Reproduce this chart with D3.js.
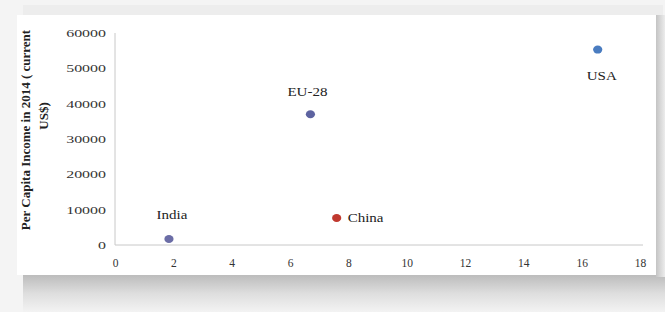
<!DOCTYPE html>
<html>
<head>
<meta charset="utf-8">
<script src="https://cdn.jsdelivr.net/npm/d3@7"></script>
<style>
  body { margin: 0; background: #f4f4f4; }
  svg { display: block; }
  .tick text { font-family: "Liberation Serif", "Times New Roman", serif; font-size: 11px; fill: #333; }
  .lbl { font-family: "Liberation Serif", "Times New Roman", serif; font-size: 12px; fill: #222; }
</style>
</head>
<body>
<svg id="chart" width="665" height="312"></svg>
<script>
// data
var countries = ["India", "China", "EU-28", "USA"]
var xValues = [1.85, 7.6, 6.7, 16.55]
var incomes = [1700, 7650, 37000, 55300]
var dotColors = ["#6b6da6", "#c0392f", "#5d63a0", "#4a7cc0"]
var xTicks = [0, 2, 4, 6, 8, 10, 12, 14, 16, 18]
var yTicks = [0, 10000, 20000, 30000, 40000, 50000, 60000]
var yTitle = ["Per Capita Income in 2014 ( current", "US$)"]

var svg = d3.select("#chart")

// panel with a soft shadow like the original picture
var defs = svg.append("defs")
var bottomGrad = defs.append("linearGradient").attr("id", "shadowB").attr("x1", 0).attr("y1", 0).attr("x2", 0).attr("y2", 1)
bottomGrad.append("stop").attr("offset", "0%").attr("stop-color", "#bcbcbc")
bottomGrad.append("stop").attr("offset", "50%").attr("stop-color", "#dedede")
bottomGrad.append("stop").attr("offset", "100%").attr("stop-color", "#f3f3f3")
var rightGrad = defs.append("linearGradient").attr("id", "shadowR").attr("x1", 0).attr("y1", 0).attr("x2", 1).attr("y2", 0)
rightGrad.append("stop").attr("offset", "0%").attr("stop-color", "#c4c4c4")
rightGrad.append("stop").attr("offset", "100%").attr("stop-color", "#ececec")

svg.append("rect").attr("x", 23).attr("y", 5).attr("width", 640).attr("height", 12).attr("fill", "#ededed")
svg.append("rect").attr("x", 23).attr("y", 275).attr("width", 642).attr("height", 37).attr("fill", "url(#shadowB)")
svg.append("rect").attr("x", 656).attr("y", 15).attr("width", 9).attr("height", 262).attr("fill", "url(#shadowR)")
svg.append("rect").attr("x", 17).attr("y", 15).attr("width", 639).attr("height", 260).attr("fill", "#ffffff")

var x = d3.scaleLinear().domain([0, 18]).range([115, 640])
var y = d3.scaleLinear().domain([0, 60000]).range([245, 33])

// the source image is stretched sideways, so text gets widened a bit
var yStretch = 1.45
var lblStretch = 1.25

var xAxis = svg.append("g")
  .attr("transform", "translate(0," + y(0) + ")")
  .call(d3.axisBottom(x).tickValues(xTicks).tickSize(0).tickPadding(14).tickFormat(d3.format("d")))
xAxis.select(".domain").attr("stroke", "#c8c8c8").attr("d", "M" + x(0) + ",0H" + (x(18) + 3))
xAxis.selectAll(".tick text").style("font-size", "11.5px")

var yAxis = svg.append("g")
  .attr("transform", "translate(" + x(0) + ",0)")
  .call(d3.axisLeft(y).tickValues(yTicks).tickSize(0).tickPadding(9).tickFormat(d3.format("d")))
yAxis.select(".domain").attr("stroke", "#c8c8c8").attr("d", "M0," + y(60000) + "V" + y(0))
yAxis.selectAll(".tick text")
  .attr("x", -9 / yStretch)
  .attr("transform", "scale(" + yStretch + ",1)")

// axis title, two rotated lines
svg.append("text").attr("class", "lbl")
  .attr("transform", "translate(30,130) rotate(-90)")
  .attr("text-anchor", "middle")
  .style("font-weight", "bold").style("font-size", "13px")
  .text(yTitle[0])
svg.append("text").attr("class", "lbl")
  .attr("transform", "translate(48,116) rotate(-90)")
  .attr("text-anchor", "middle")
  .style("font-weight", "bold").style("font-size", "13px")
  .text(yTitle[1])

var pts = countries.map(function (c, i) {
  return { name: c, x: xValues[i], y: incomes[i], color: dotColors[i] }
})

svg.selectAll(".dot")
  .data(pts)
  .enter().append("ellipse")
  .attr("class", "dot")
  .attr("cx", function (d) { return x(d.x) })
  .attr("cy", function (d) { return y(d.y) })
  .attr("rx", 4.6)
  .attr("ry", 4)
  .attr("fill", function (d) { return d.color })

// label placement follows the picture: above, right or below the dot
var labelPos = {
  "India": { dx: 3, dy: -20, anchor: "middle" },
  "China": { dx: 11, dy: 4, anchor: "start" },
  "EU-28": { dx: -3, dy: -18, anchor: "middle" },
  "USA": { dx: 4, dy: 30, anchor: "middle" }
}

svg.selectAll(".dlabel")
  .data(pts)
  .enter().append("text")
  .attr("class", "lbl dlabel")
  .attr("transform", function (d) {
    var p = labelPos[d.name]
    return "translate(" + (x(d.x) + p.dx) + "," + (y(d.y) + p.dy) + ") scale(" + lblStretch + ",1)"
  })
  .attr("text-anchor", function (d) { return labelPos[d.name].anchor })
  .text(function (d) { return d.name })
</script>
</body>
</html>
